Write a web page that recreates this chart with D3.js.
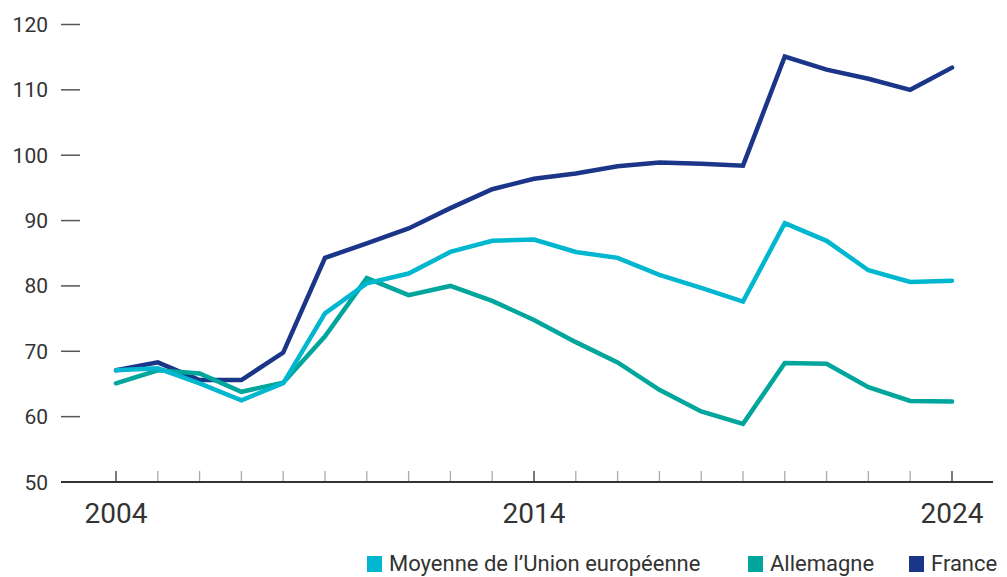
<!DOCTYPE html>
<html>
<head>
<meta charset="utf-8">
<script src="https://cdn.jsdelivr.net/npm/d3@7"></script>
<style>
    body { margin: 0; background: #fff; }
    svg text { font-family: Roboto, "Noto Sans", sans-serif; fill: #333; }
</style>
</head>
<body>
<div id="chart"></div>
<script>
// years on the x axis
var years = d3.range(2004, 2025);
var yearLabels = [2004, 2014, 2024];
var yTicks = [50, 60, 70, 80, 90, 100, 110, 120];

// series values
var euValues = [67.1, 67.4, 65.1, 62.5, 65.1, 75.8, 80.4, 81.9, 85.2, 86.9, 87.1,
    85.2, 84.3, 81.7, 79.7, 77.6, 89.6, 86.9, 82.4, 80.6, 80.8];
var deValues = [65.1, 67.1, 66.6, 63.8, 65.2, 72.3, 81.2, 78.6, 80.0, 77.7, 74.8,
    71.4, 68.3, 64.1, 60.8, 58.9, 68.2, 68.1, 64.5, 62.4, 62.3];
var frValues = [67.1, 68.3, 65.6, 65.6, 69.8, 84.3, 86.5, 88.8, 91.9, 94.8, 96.4,
    97.2, 98.3, 98.9, 98.7, 98.4, 115.1, 113.1, 111.7, 110.0, 113.4];

var seriesNames = ["Moyenne de l\u2019Union européenne", "Allemagne", "France"];
var seriesColors = ["#00b7cf", "#00a69c", "#1b3589"];
var seriesValues = [euValues, deValues, frValues];

var width = 1007,
    height = 577;

var svg = d3.select("#chart").append("svg")
    .attr("width", width)
    .attr("height", height);

var x = d3.scaleLinear().domain([2004, 2024]).range([116, 952]);
var y = d3.scaleLinear().domain([50, 120]).range([482, 24.5]);

// y axis: labels with a short dash after them
var yAxis = svg.append("g").attr("class", "y axis");
yTicks.forEach(function (t) {
    yAxis.append("text")
        .attr("x", 48)
        .attr("y", y(t))
        .attr("dy", "0.36em")
        .attr("text-anchor", "end")
        .style("font-size", "21px")
        .text(t);
    if (t > 50) {
        yAxis.append("line")
            .attr("x1", 61).attr("x2", 80)
            .attr("y1", y(t)).attr("y2", y(t))
            .attr("stroke", "#555")
            .attr("stroke-width", 1.5);
    }
});

// x axis baseline and ticks
var xAxis = svg.append("g").attr("class", "x axis");
xAxis.selectAll(".tick")
    .data(years)
    .enter()
    .append("line")
    .attr("x1", function (d) { return x(d); })
    .attr("x2", function (d) { return x(d); })
    .attr("y1", y(50) - 11)
    .attr("y2", y(50))
    .attr("stroke", function (d) { return yearLabels.indexOf(d) >= 0 ? "#333" : "#aaa"; })
    .attr("stroke-width", 1.3);

xAxis.append("line")
    .attr("x1", 61).attr("x2", 993)
    .attr("y1", y(50)).attr("y2", y(50))
    .attr("stroke", "#333")
    .attr("stroke-width", 2);

xAxis.selectAll(".label")
    .data(yearLabels)
    .enter()
    .append("text")
    .attr("x", function (d) { return x(d); })
    .attr("y", 523)
    .attr("text-anchor", "middle")
    .style("font-size", "28px")
    .text(function (d) { return d; });

// lines, France drawn first so the lighter ones sit on top
var line = d3.line()
    .x(function (d, i) { return x(years[i]); })
    .y(function (d) { return y(d); });

[2, 1, 0].forEach(function (k) {
    svg.append("path")
        .datum(seriesValues[k])
        .attr("fill", "none")
        .attr("stroke", seriesColors[k])
        .attr("stroke-width", 4.5)
        .attr("stroke-linejoin", "miter")
        .attr("stroke-linecap", "round")
        .attr("d", line);
});

// legend
var legendX = [367, 748, 909];
var legend = svg.append("g").attr("class", "legend");
seriesNames.forEach(function (name, k) {
    legend.append("rect")
        .attr("x", legendX[k])
        .attr("y", 556)
        .attr("width", 15)
        .attr("height", 16)
        .attr("fill", seriesColors[k]);
    legend.append("text")
        .attr("x", legendX[k] + 22)
        .attr("y", 571)
        .style("font-size", "22px")
        .text(name);
});
</script>
</body>
</html>
